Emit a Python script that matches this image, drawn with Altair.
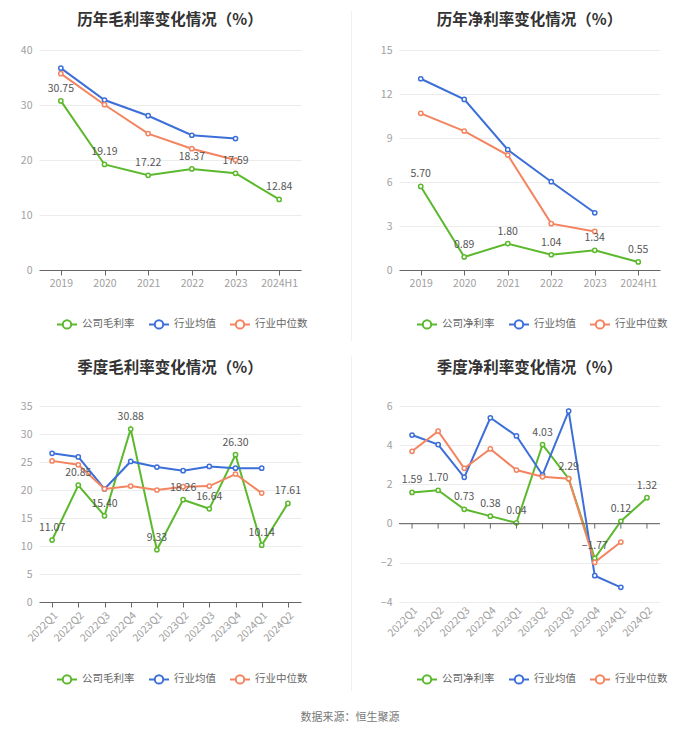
import altair as alt
import pandas as pd

FONT = "Noto Sans CJK SC"
GREEN = "#5cb82c"
BLUE = "#3d6fd9"
ORANGE = "#f4845f"
SYMBOL = "M-1,0L-0.42,0M0.42,0L1,0M0.42,0A0.42,0.42,0,1,1,-0.42,0A0.42,0.42,0,1,1,0.42,0"

# ---- data ----
years = ["2019", "2020", "2021", "2022", "2023", "2024H1"]
gross_company = [30.75, 19.19, 17.22, 18.37, 17.59, 12.84]
gross_mean = [36.7, 30.9, 28.05, 24.5, 23.9, None]
gross_median = [35.7, 30.05, 24.8, 22.05, 20.0, None]

net_company = [5.70, 0.89, 1.80, 1.04, 1.34, 0.55]
net_mean = [13.04, 11.63, 8.2, 6.02, 3.9, None]
net_median = [10.68, 9.47, 7.84, 3.16, 2.63, None]

quarters = ["2022Q1", "2022Q2", "2022Q3", "2022Q4", "2023Q1",
            "2023Q2", "2023Q3", "2023Q4", "2024Q1", "2024Q2"]
q_gross_company = [11.07, 20.85, 15.40, 30.88, 9.33, 18.26, 16.64, 26.30, 10.14, 17.61]
q_gross_mean = [26.55, 25.9, 20.2, 25.1, 24.1, 23.45, 24.2, 23.9, 23.9, None]
q_gross_median = [25.2, 24.5, 20.2, 20.7, 20.0, 20.6, 20.7, 22.85, 19.45, None]

q_net_company = [1.59, 1.70, 0.73, 0.38, 0.04, 4.03, 2.29, -1.77, 0.12, 1.32]
q_net_mean = [4.52, 4.03, 2.36, 5.4, 4.47, 2.48, 5.74, -2.66, -3.25, None]
q_net_median = [3.69, 4.72, 2.82, 3.81, 2.73, 2.39, 2.29, -1.98, -0.94, None]

source_text = ["数据来源：恒生聚源"]


def panel(title, cats, comp_name, comp, mean, median, domain, ticks, w, h,
          rotate, title_y, legend_y, zero_rule=False, separator=None,
          source=False):
    order = [comp_name, "行业均值", "行业中位数"]
    rows = []
    for name, vals in zip(order, [comp, mean, median]):
        for c, v in zip(cats, vals):
            if v is not None:
                rows.append({"cat": c, "series": name, "value": v})
    df = pd.DataFrame(rows)

    axis_x = alt.Axis(title=None, labelAngle=-45 if rotate else 0,
                      labelColor="#a0a0a0", labelFontSize=10.5,
                      domain=not zero_rule, domainColor="#666666",
                      ticks=not zero_rule, tickColor="#666666", tickSize=5,
                      labelPadding=3, grid=False)
    x_scale = alt.Scale(type="point", padding=0.5)
    x = alt.X("cat:N", sort=cats, scale=x_scale, axis=axis_x)
    y_scale = alt.Scale(domain=domain, nice=False, zero=False)
    y_axis = alt.Axis(title=None, values=ticks, domain=False, ticks=False,
                      grid=True, gridColor="#ececec", labelColor="#a0a0a0",
                      labelFontSize=10.5, labelPadding=7, labelOverlap=False)
    y = alt.Y("value:Q", scale=y_scale, axis=y_axis)
    color = alt.Color(
        "series:N", sort=order,
        scale=alt.Scale(domain=order, range=[GREEN, BLUE, ORANGE]),
        legend=alt.Legend(orient="none", legendX=17, legendY=legend_y,
                          direction="horizontal", columns=3, title=None,
                          symbolType=SYMBOL, symbolSize=400,
                          symbolStrokeWidth=2, symbolFillColor="white",
                          labelFontSize=10.5, labelColor="#666666",
                          labelOffset=4, columnPadding=10, labelFont=FONT))

    base = alt.Chart(df)
    lines = base.mark_line(
        strokeWidth=2,
        point=alt.OverlayMarkDef(filled=False, fill="white", size=18,
                                 strokeWidth=1.5)
    ).encode(x=x, y=y, color=color)
    layers = [lines]
    if separator is not None:
        layers.append(alt.Chart(pd.DataFrame({"s": [0]})).mark_rule(
            color="#f0f0f0", strokeWidth=1).encode(
            x=alt.value(-47.5), y=alt.value(separator[0]),
            y2=alt.value(separator[1])))
    if zero_rule:
        layers.append(alt.Chart(pd.DataFrame({"z": [0.0]})).mark_rule(
            color="#666666", strokeWidth=1).encode(
            y=alt.Y("z:Q", scale=y_scale, axis=y_axis)))
        layers.append(alt.Chart(pd.DataFrame({"cat": cats, "z": [0.0] * len(cats)})).mark_rule(
            color="#666666", strokeWidth=1, y2Offset=5).encode(
            x=x, y=alt.Y("z:Q", scale=y_scale, axis=y_axis), y2="z:Q"))

    labels = base.transform_filter(alt.datum.series == comp_name).mark_text(
        dy=-12, fontSize=10.5, color="#555555", font=FONT
    ).encode(x=x, y=y, text=alt.Text("value:Q", format=".2f"))
    title_mark = alt.Chart(pd.DataFrame({"t": [title]})).mark_text(
        fontSize=15.5, fontWeight="bold", color="#333333", font=FONT
    ).encode(x=alt.value(w / 2), y=alt.value(title_y), text="t:N")
    layers += [labels, title_mark]
    if source:
        layers.append(alt.Chart(pd.DataFrame({"t": source_text})).mark_text(
            fontSize=11, color="#777777", font=FONT).encode(
            x=alt.value(311), y=alt.value(312), text="t:N"))

    return alt.layer(*layers).properties(width=w, height=h)


p1 = panel("历年毛利率变化情况（%）", years, "公司毛利率", gross_company,
           gross_mean, gross_median, [0, 40], [0, 10, 20, 30, 40], 262, 220,
           False, -30, 263)
p2 = panel("历年净利率变化情况（%）", years, "公司净利率", net_company,
           net_mean, net_median, [0, 15], [0, 3, 6, 9, 12, 15], 261, 220,
           False, -30, 263, separator=(-39, 291))
p3 = panel("季度毛利率变化情况（%）", quarters, "公司毛利率", q_gross_company,
           q_gross_mean, q_gross_median, [0, 35], [0, 5, 10, 15, 20, 25, 30, 35],
           262, 196, True, -38, 262, source=True)
p4 = panel("季度净利率变化情况（%）", quarters, "公司净利率", q_net_company,
           q_net_mean, q_net_median, [-4, 6], [-4, -2, 0, 2, 4, 6], 261, 196,
           True, -38, 262, zero_rule=True, separator=(-50, 285))

chart = alt.concat(
    p1, p2, p3, p4, columns=2, spacing={"row": 136, "column": 98},
    bounds="flush"
).resolve_scale(
    color="independent", x="independent", y="independent"
).resolve_legend(color="independent").properties(
    padding={"left": 12, "top": 2, "right": 0, "bottom": 0}
).configure(font=FONT, background="white").configure_view(stroke=None)

chart.save("out.html", embed_options={"renderer": "svg", "actions": False})
